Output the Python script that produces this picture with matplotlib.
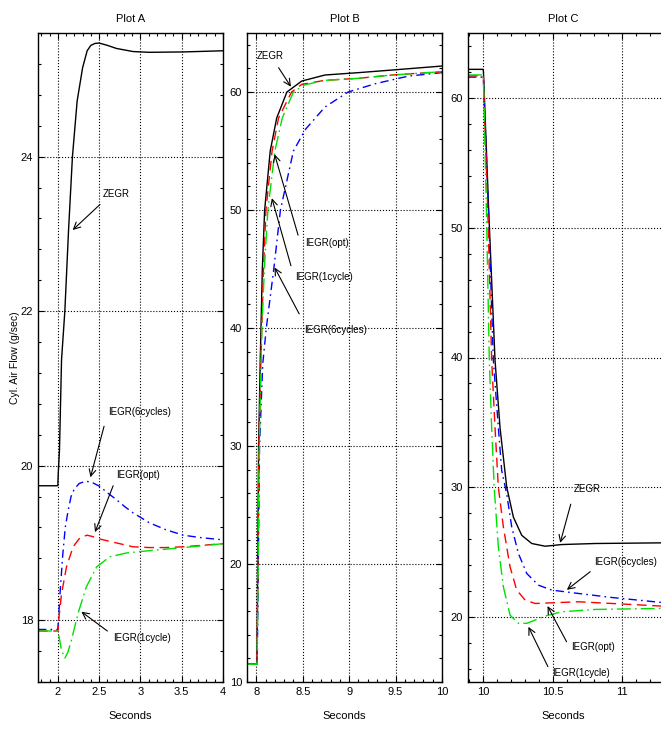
import matplotlib
matplotlib.use("Agg")
import matplotlib.pyplot as plt
from matplotlib.ticker import MultipleLocator, FuncFormatter

plt.rcParams['font.family'] = ['Liberation Sans Narrow', 'Liberation Sans', 'DejaVu Sans']
plt.rcParams['font.size'] = 8

# ---- Plot A data (seconds, g/sec)
a_zegr_t = [1.76, 2.0, 2.005, 2.02, 2.045, 2.085, 2.13, 2.177, 2.234, 2.30, 2.355, 2.40, 2.45,
            2.5, 2.6, 2.71, 2.91, 3.11, 3.52, 4.0]
a_zegr_y = [19.74, 19.74, 19.9, 20.2, 21.37, 22.0, 23.05, 24.0, 24.72, 25.15, 25.37, 25.44, 25.465,
            25.47, 25.44, 25.40, 25.36, 25.35, 25.355, 25.37]
a_6cyc_t = [1.76, 2.0, 2.01, 2.03, 2.06, 2.09, 2.125, 2.16, 2.2, 2.26, 2.34, 2.42, 2.51, 2.6,
            2.71, 2.81, 2.91, 3.11, 3.31, 3.52, 3.72, 4.0]
a_6cyc_y = [17.88, 17.88, 18.05, 18.4, 18.85, 19.2, 19.42, 19.6, 19.7, 19.77, 19.80, 19.78, 19.73,
            19.65, 19.56, 19.47, 19.39, 19.26, 19.17, 19.10, 19.07, 19.04]
a_opt_t = [1.76, 2.0, 2.015, 2.045, 2.105, 2.185, 2.27, 2.355, 2.43, 2.51, 2.71, 2.91, 3.11,
           3.31, 3.52, 4.0]
a_opt_y = [17.86, 17.86, 18.05, 18.34, 18.69, 18.95, 19.07, 19.10, 19.08, 19.05, 19.0, 18.95,
           18.94, 18.94, 18.95, 18.99]
a_1cyc_t = [1.76, 2.0, 2.016, 2.045, 2.085, 2.12, 2.165, 2.245, 2.345, 2.47, 2.63, 2.83, 3.11,
            3.52, 4.0]
a_1cyc_y = [17.86, 17.86, 17.78, 17.61, 17.51, 17.58, 17.74, 18.09, 18.43, 18.69, 18.82, 18.87,
            18.90, 18.94, 18.99]

# ---- Plot B data
b_zegr_t = [7.9, 8.0, 8.007, 8.025, 8.043, 8.065, 8.09, 8.15, 8.22, 8.33, 8.49, 8.74, 9.10,
            9.46, 10.0]
b_zegr_y = [11.5, 11.5, 11.5, 30.0, 37.4, 45.0, 50.0, 55.0, 57.8, 60.0, 60.93, 61.44, 61.64,
            61.86, 62.2]
b_opt_t = [7.9, 8.0, 8.008, 8.028, 8.05, 8.075, 8.104, 8.17, 8.24, 8.38, 8.49, 8.74, 9.10,
           9.46, 10.0]
b_opt_y = [11.5, 11.5, 11.5, 30.0, 37.4, 44.5, 50.0, 55.0, 57.8, 60.0, 60.65, 60.99, 61.16,
           61.44, 61.72]
b_1cyc_t = [7.9, 8.0, 8.009, 8.032, 8.06, 8.09, 8.125, 8.2, 8.28, 8.40, 8.52, 8.74, 9.10,
            9.46, 10.0]
b_1cyc_y = [11.5, 11.5, 11.5, 30.0, 40.0, 45.5, 50.0, 55.0, 57.8, 60.0, 60.6, 60.99, 61.16,
            61.44, 61.72]
b_6cyc_t = [7.9, 8.0, 8.01, 8.035, 8.07, 8.108, 8.19, 8.26, 8.40, 8.53, 8.74, 8.99, 9.28,
            9.64, 10.0]
b_6cyc_y = [11.5, 11.5, 11.5, 30.0, 37.0, 40.0, 45.1, 50.0, 55.0, 56.84, 58.73, 60.0, 60.70,
            61.35, 61.64]

# ---- Plot C data
c_zegr_t = [9.892, 10.0, 10.003, 10.04, 10.086, 10.122, 10.17, 10.218, 10.278, 10.35, 10.446,
            10.566, 10.806, 11.28, 11.35]
c_zegr_y = [62.2, 62.2, 62.0, 51.5, 39.8, 34.6, 30.02, 27.7, 26.3, 25.67, 25.46, 25.59, 25.67,
            25.72, 25.72]
c_6cyc_t = [9.892, 10.0, 10.003, 10.04, 10.074, 10.11, 10.134, 10.17, 10.206, 10.254, 10.314,
            10.398, 10.494, 10.686, 10.926, 11.28, 11.35]
c_6cyc_y = [61.6, 61.6, 61.4, 51.0, 39.8, 34.6, 31.3, 29.5, 26.95, 24.9, 23.36, 22.46, 22.08,
            21.82, 21.51, 21.13, 21.07]
c_opt_t = [9.892, 10.0, 10.003, 10.035, 10.062, 10.086, 10.11, 10.146, 10.194, 10.242, 10.302,
           10.374, 10.494, 10.686, 10.926, 11.28, 11.35]
c_opt_y = [61.7, 61.7, 61.5, 51.0, 39.8, 34.6, 30.0, 26.95, 23.87, 22.08, 21.31, 21.05, 21.1,
           21.18, 21.05, 20.85, 20.82]
c_1cyc_t = [9.892, 10.0, 10.003, 10.025, 10.045, 10.062, 10.08, 10.11, 10.146, 10.194, 10.254,
            10.314, 10.374, 10.446, 10.566, 10.806, 11.28, 11.35]
c_1cyc_y = [61.77, 61.77, 61.5, 51.0, 39.8, 34.6, 30.0, 25.41, 22.33, 20.15, 19.52, 19.52,
            19.77, 20.08, 20.41, 20.59, 20.67, 20.68]

black = 'black'
blue = '#0000ff'
red = '#ff0000'
green = '#00e000'
ls_blue = (0, (6, 3, 1.2, 3))
ls_red = (0, (7, 4))
ls_green = (0, (10, 3, 1.2, 3))
note_size = 7

fig = plt.figure(figsize=(6.61, 7.29), dpi=100)
axA = fig.add_axes([38 / 661, 47 / 729, 185 / 661, 649 / 729])
axB = fig.add_axes([247 / 661, 47 / 729, 195 / 661, 649 / 729])
axC = fig.add_axes([468 / 661, 47 / 729, 203 / 661, 649 / 729])

fmt = FuncFormatter(lambda v, p: '%g' % v)


def style(ax, xlim, ylim, xmaj, xmin, ymaj, ymin, title):
    ax.set_xlim(*xlim)
    ax.set_ylim(*ylim)
    ax.xaxis.set_major_locator(MultipleLocator(xmaj))
    ax.xaxis.set_minor_locator(MultipleLocator(xmin))
    ax.yaxis.set_major_locator(MultipleLocator(ymaj))
    ax.yaxis.set_minor_locator(MultipleLocator(ymin))
    ax.xaxis.set_major_formatter(fmt)
    ax.yaxis.set_major_formatter(fmt)
    ax.tick_params(which='both', direction='in', top=True, right=True, labelsize=8)
    ax.tick_params(which='major', length=4, width=0.8)
    ax.tick_params(which='minor', length=2.5, width=0.8)
    ax.grid(True, which='major', linestyle=':', color='black', linewidth=0.8)
    for s in ax.spines.values():
        s.set_linewidth(1.0)
    ax.set_title(title, fontsize=8, pad=8)
    ax.set_xlabel('Seconds', fontsize=8, labelpad=10)


def note(ax, txt, pos, tip, tail):
    ax.text(pos[0], pos[1], txt, va='center', fontsize=note_size)
    ax.annotate('', xy=tip, xytext=tail,
                arrowprops=dict(arrowstyle='->', lw=0.8, color='black',
                                shrinkA=0, shrinkB=0, mutation_scale=12))


# Plot A
axA.plot(a_zegr_t, a_zegr_y, color=black, lw=1.0)
axA.plot(a_6cyc_t, a_6cyc_y, color=blue, lw=1.0, linestyle=ls_blue)
axA.plot(a_opt_t, a_opt_y, color=red, lw=1.0, linestyle=ls_red)
axA.plot(a_1cyc_t, a_1cyc_y, color=green, lw=1.0, linestyle=ls_green)
style(axA, (1.76, 4.0), (17.2, 25.6), 0.5, 0.1, 2, 0.4, 'Plot A')
axA.set_ylabel('Cyl. Air Flow (g/sec)', fontsize=7.5)
axA.yaxis.set_label_coords(-0.095, 0.5)
note(axA, 'ZEGR', (2.545, 23.51), (2.18, 23.05), (2.51, 23.38))
note(axA, 'IEGR(6cycles)', (2.605, 20.70), (2.395, 19.85), (2.56, 20.51))
note(axA, 'IEGR(opt)', (2.71, 19.88), (2.45, 19.14), (2.67, 19.74))
note(axA, 'IEGR(1cycle)', (2.67, 17.77), (2.285, 18.11), (2.6, 17.86))

# Plot B
axB.plot(b_zegr_t, b_zegr_y, color=black, lw=1.0)
axB.plot(b_6cyc_t, b_6cyc_y, color=blue, lw=1.0, linestyle=ls_blue)
axB.plot(b_opt_t, b_opt_y, color=red, lw=1.0, linestyle=ls_red)
axB.plot(b_1cyc_t, b_1cyc_y, color=green, lw=1.0, linestyle=ls_green)
style(axB, (7.9, 10.0), (10, 65), 0.5, 0.1, 10, 2, 'Plot B')
note(axB, 'ZEGR', (8.0, 63.05), (8.373, 60.45), (8.24, 62.06))
note(axB, 'IEGR(opt)', (8.53, 47.2), (8.197, 54.73), (8.45, 47.87))
note(axB, 'IEGR(1cycle)', (8.42, 44.35), (8.168, 51.0), (8.373, 45.28))
note(axB, 'IEGR(6cycles)', (8.516, 39.84), (8.197, 45.13), (8.462, 41.2))

# Plot C
axC.plot(c_zegr_t, c_zegr_y, color=black, lw=1.0)
axC.plot(c_6cyc_t, c_6cyc_y, color=blue, lw=1.0, linestyle=ls_blue)
axC.plot(c_opt_t, c_opt_y, color=red, lw=1.0, linestyle=ls_red)
axC.plot(c_1cyc_t, c_1cyc_y, color=green, lw=1.0, linestyle=ls_green)
style(axC, (9.892, 11.35), (15, 65), 0.5, 0.1, 10, 2, 'Plot C')
axC.title.set_position((0.47, 1.0))
axC.xaxis.set_label_coords(0.47, -0.045)
note(axC, 'ZEGR', (10.65, 29.9), (10.554, 25.72), (10.63, 28.7))
note(axC, 'IEGR(6cycles)', (10.8, 24.26), (10.602, 22.1), (10.77, 23.5))
note(axC, 'IEGR(opt)', (10.63, 17.67), (10.463, 20.85), (10.60, 18.1))
note(axC, 'IEGR(1cycle)', (10.494, 15.72), (10.326, 19.25), (10.466, 16.18))

fig.savefig('out.png', dpi=100)
